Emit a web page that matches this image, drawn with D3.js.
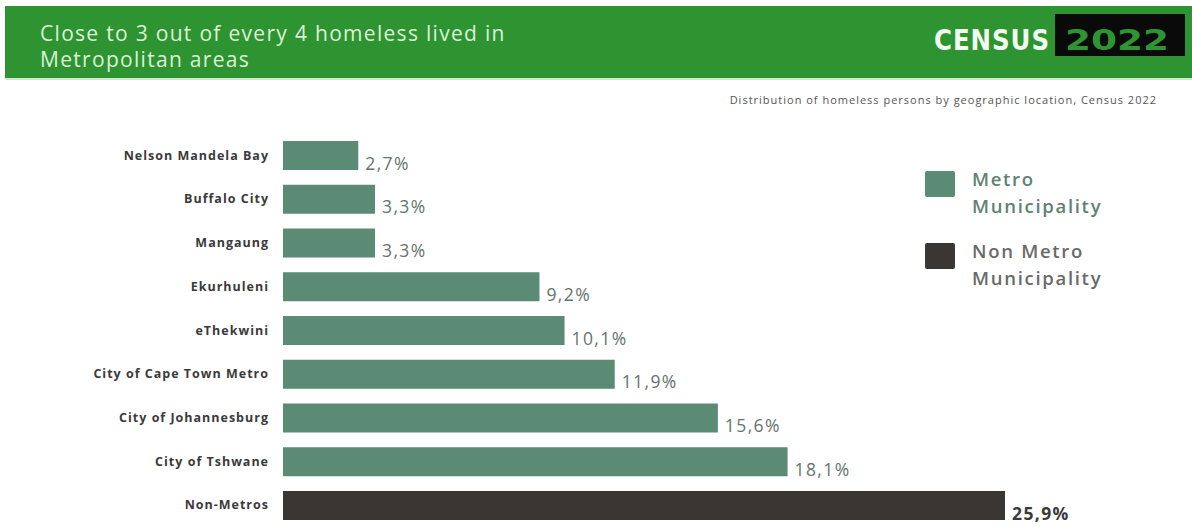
<!DOCTYPE html>
<html>
<head>
<meta charset="utf-8">
<script src="https://cdn.jsdelivr.net/npm/d3@7"></script>
<style>
  html, body { margin: 0; padding: 0; background: #ffffff; }
  svg { display: block; }
</style>
</head>
<body>
<svg id="chart" width="1192" height="527"></svg>
<script>
// Homeless persons by geographic location, Census 2022 (percent)
const categories = [
  "Nelson Mandela Bay", "Buffalo City", "Mangaung", "Ekurhuleni", "eThekwini",
  "City of Cape Town Metro", "City of Johannesburg", "City of Tshwane", "Non-Metros"
];
const shares = [2.7, 3.3, 3.3, 9.2, 10.1, 11.9, 15.6, 18.1, 25.9];
const groups = ["Metro", "Metro", "Metro", "Metro", "Metro", "Metro", "Metro", "Metro", "Non Metro"];
const legendLabels = [["Metro", "Municipality"], ["Non Metro", "Municipality"]];
const titleLines = ["Close to 3 out of every 4 homeless lived in", "Metropolitan areas"];
const subtitle = "Distribution of homeless persons by geographic location, Census 2022";

const colors = { "Metro": "#5b8a75", "Non Metro": "#3a3634" };
const data = categories.map((c, i) => ({ name: c, value: shares[i], group: groups[i] }));

const svg = d3.select("#chart");

// Header band
svg.append("rect").attr("x", 5).attr("y", 6).attr("width", 1187).attr("height", 72).attr("fill", "#2d9431");
svg.append("rect").attr("x", 5).attr("y", 78).attr("width", 1187).attr("height", 2).attr("fill", "#cfe8cc");

svg.append("g").selectAll("text").data(titleLines).join("text")
  .attr("x", 40).attr("y", (d, i) => 41 + i * 26)
  .attr("font-family", "'Open Sans', sans-serif").attr("font-size", 21)
  .attr("letter-spacing", 1.3)
  .attr("fill", "#dcf2d6").text(d => d);

// Census logo
svg.append("text").attr("x", 934).attr("y", 50)
  .attr("font-family", "'DejaVu Sans Condensed', 'DejaVu Sans', sans-serif")
  .attr("font-weight", 900).attr("font-size", 29).attr("letter-spacing", 1)
  .attr("textLength", 116).attr("lengthAdjust", "spacingAndGlyphs")
  .attr("fill", "#f2fbef").text("CENSUS");
svg.append("rect").attr("x", 1055).attr("y", 14).attr("width", 130).attr("height", 42).attr("fill", "#0a0a0a");
svg.append("text").attr("x", 1117).attr("y", 50).attr("text-anchor", "middle")
  .attr("font-family", "'DejaVu Sans Condensed', 'DejaVu Sans', sans-serif")
  .attr("font-weight", 900).attr("font-size", 29)
  .attr("textLength", 104).attr("lengthAdjust", "spacingAndGlyphs")
  .attr("fill", "#2e9533").text("2022");

// Subtitle
svg.append("text").attr("x", 1157).attr("y", 104).attr("text-anchor", "end")
  .attr("font-family", "'Open Sans', sans-serif").attr("font-size", 11)
  .attr("letter-spacing", 1.0)
  .attr("fill", "#555").text(subtitle);

// Scales
const x = d3.scaleLinear().domain([0, 25.9]).range([283, 1005]);
const y = d3.scaleBand().domain(categories).range([141, 520]).paddingInner(0.337).paddingOuter(0);
const fmt = v => d3.format(".1f")(v).replace(".", ",") + "%";

// Category axis
const yAxis = d3.axisLeft(y).tickSize(0).tickPadding(14);
const ag = svg.append("g").attr("transform", `translate(${x(0)},0)`).call(yAxis);
ag.select(".domain").remove();
ag.selectAll("text")
  .attr("font-family", "'Open Sans', sans-serif").attr("font-weight", 700)
  .attr("font-size", 12.5).attr("letter-spacing", 1.0).attr("fill", "#3a3a3a");

// Bars
svg.append("g").selectAll("rect").data(data).join("rect")
  .attr("x", x(0)).attr("y", d => y(d.name))
  .attr("width", d => x(d.value) - x(0)).attr("height", y.bandwidth())
  .attr("fill", d => colors[d.group]);

// Value labels
svg.append("g").selectAll("text").data(data).join("text")
  .attr("x", d => x(d.value) + 7).attr("y", d => y(d.name) + y.bandwidth() - 0.5)
  .attr("font-family", "'Open Sans', sans-serif").attr("font-size", 17.5)
  .attr("letter-spacing", 1.4)
  .attr("font-weight", d => d.group === "Metro" ? 400 : 700)
  .attr("fill", d => d.group === "Metro" ? "#66736e" : "#3a3a3a")
  .text(d => fmt(d.value));

// Legend
const lg = svg.append("g").selectAll("g").data(Object.keys(colors)).join("g")
  .attr("transform", (d, i) => `translate(925, ${171 + i * 72})`);
lg.append("rect").attr("width", 30).attr("height", 26).attr("rx", 2).attr("fill", d => colors[d]);
lg.each(function(d, i) {
  d3.select(this).selectAll("text").data(legendLabels[i]).join("text")
    .attr("x", 47).attr("y", (t, j) => 15 + j * 27)
    .attr("font-family", "'Open Sans', sans-serif").attr("font-weight", 600)
    .attr("font-size", 18.5).attr("letter-spacing", 1.7)
    .attr("fill", i === 0 ? "#5f8273" : "#6a6a6a")
    .text(t => t);
});
</script>
</body>
</html>
